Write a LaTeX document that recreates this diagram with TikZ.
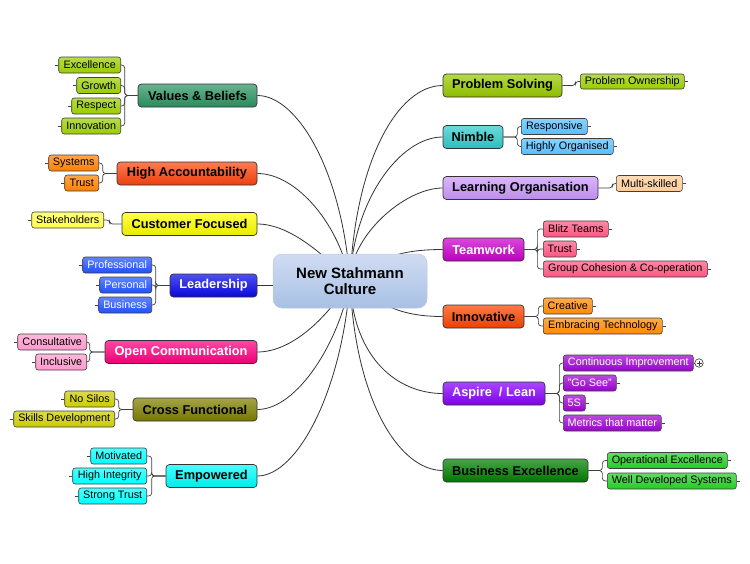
\documentclass[tikz,border=0pt]{standalone}
\usepackage{fontspec}
\setmainfont{Liberation Sans}
\usetikzlibrary{backgrounds}
\definecolor{cVB}{RGB}{46,150,100}
\definecolor{cHA}{RGB}{255,70,15}
\definecolor{cCF}{RGB}{255,255,0}
\definecolor{cLD}{RGB}{10,10,235}
\definecolor{cOC}{RGB}{255,0,128}
\definecolor{cCX}{RGB}{128,128,0}
\definecolor{cEM}{RGB}{0,255,255}
\definecolor{cPS}{RGB}{153,204,0}
\definecolor{cNB}{RGB}{51,204,204}
\definecolor{cLO}{RGB}{204,153,255}
\definecolor{cTW}{RGB}{204,0,204}
\definecolor{cIN}{RGB}{255,69,0}
\definecolor{cAL}{RGB}{136,0,255}
\definecolor{cBE}{RGB}{0,128,0}
\definecolor{sVB}{RGB}{153,204,0}
\definecolor{sHA}{RGB}{255,128,0}
\definecolor{sCF}{RGB}{255,255,70}
\definecolor{sLD}{RGB}{30,80,255}
\definecolor{sOC}{RGB}{255,153,204}
\definecolor{sCX}{RGB}{204,204,0}
\definecolor{sEM}{RGB}{0,255,255}
\definecolor{sPS}{RGB}{153,204,0}
\definecolor{sNB}{RGB}{85,190,255}
\definecolor{sLO}{RGB}{255,204,153}
\definecolor{sTW}{RGB}{255,85,128}
\definecolor{sIN}{RGB}{255,136,0}
\definecolor{sAL}{RGB}{153,0,204}
\definecolor{sBE}{RGB}{34,204,34}
\definecolor{ctrTop}{RGB}{208,220,242}
\definecolor{ctrBot}{RGB}{168,192,228}
\newcommand{\mainfnt}{\bfseries\fontsize{12.8}{15}\selectfont}
\newcommand{\subfnt}{\fontsize{10.8}{12}\selectfont}
\newcommand{\ctrfnt}{\bfseries\fontsize{15}{16}\selectfont}
\tikzset{
  mainnode/.style={draw=black!80, line width=0.7pt, rounded corners=3.5pt, inner sep=0pt,
    minimum height=23pt, font=\mainfnt, top color=#1!72!white, middle color=#1,
    bottom color=#1!92!black, text=black},
  subnode/.style={draw=black!75, line width=0.6pt, rounded corners=2.5pt, inner sep=0pt,
    minimum height=16pt, font=\subfnt, top color=#1!70!white, middle color=#1,
    bottom color=#1, text=black},
  wtext/.style={text=white},
  conn/.style={draw=black!80, line width=0.8pt},
  brk/.style={draw=black!75, line width=0.7pt, rounded corners=3pt},
  stub/.style={draw=black!75, line width=0.7pt},
}
\begin{document}
\begin{tikzpicture}[x=1pt,y=-1pt]
\useasboundingbox (0,0) rectangle (750,563);
% centre
\node[draw=ctrTop!80!gray, line width=0.5pt, rounded corners=9pt, top color=ctrTop, bottom color=ctrBot,
  minimum width=154pt, minimum height=54pt, inner sep=0pt, font=\ctrfnt, align=center] (ctr) at (350,281)
  {New Stahmann\\Culture};
% left main
\node[mainnode=cVB, minimum width=119pt] (vb) at (197.5,95.5) {Values \& Beliefs};
\node[mainnode=cHA, minimum width=140pt] (ha) at (187,173.5) {High Accountability};
\node[mainnode=cCF, minimum width=135pt] (cf) at (189.5,224) {Customer Focused};
\node[mainnode=cLD, minimum width=87pt, wtext] (ld) at (213.5,285.5) {Leadership};
\node[mainnode=cOC, minimum width=152pt, wtext] (oc) at (181,352) {Open Communication};
\node[mainnode=cCX, minimum width=124pt] (cx) at (195,409.5) {Cross Functional};
\node[mainnode=cEM, minimum width=91pt] (em) at (211.5,476) {Empowered};
% right main
\node[mainnode=cPS, minimum width=119pt] (ps) at (502.5,85.5) {Problem Solving};
\node[mainnode=cNB, minimum width=60pt] (nb) at (473,137) {Nimble};
\node[mainnode=cLO, minimum width=155pt] (lo) at (520.5,188) {Learning Organisation};
\node[mainnode=cTW, minimum width=81pt, wtext] (tw) at (483.5,249.5) {Teamwork};
\node[mainnode=cIN, minimum width=81pt] (in) at (483.5,316.5) {Innovative};
\node[mainnode=cAL, minimum width=102pt, wtext] (al) at (494,393.5) {Aspire \ / Lean};
\node[mainnode=cBE, minimum width=145pt] (be) at (515.5,470.5) {Business Excellence};
% left subs
\node[subnode=sVB, minimum width=62pt, anchor=east] (vb1) at (121,65) {Excellence};
\node[subnode=sVB, minimum width=44pt, anchor=east] (vb2) at (121,85.5) {Growth};
\node[subnode=sVB, minimum width=49pt, anchor=east] (vb3) at (121,106) {Respect};
\node[subnode=sVB, minimum width=59pt, anchor=east] (vb4) at (121,126) {Innovation};
\node[subnode=sHA, minimum width=50pt, anchor=east] (ha1) at (99,163) {Systems};
\node[subnode=sHA, minimum width=34pt, anchor=east] (ha2) at (99,183) {Trust};
\node[subnode=sCF, minimum width=72pt, anchor=east] (cf1) at (104,220) {Stakeholders};
\node[subnode=sLD, minimum width=69pt, anchor=east, wtext] (ld1) at (152,265) {Professional};
\node[subnode=sLD, minimum width=52pt, anchor=east, wtext] (ld2) at (152,285) {Personal};
\node[subnode=sLD, minimum width=53pt, anchor=east, wtext] (ld3) at (152,305) {Business};
\node[subnode=sOC, minimum width=69pt, anchor=east] (oc1) at (87,342) {Consultative};
\node[subnode=sOC, minimum width=51pt, anchor=east] (oc2) at (87,362) {Inclusive};
\node[subnode=sCX, minimum width=50pt, anchor=east] (cx1) at (115,399) {No Silos};
\node[subnode=sCX, minimum width=101pt, anchor=east] (cx2) at (115,419) {Skills Development};
\node[subnode=sEM, minimum width=56pt, anchor=east] (em1) at (147,456) {Motivated};
\node[subnode=sEM, minimum width=74pt, anchor=east] (em2) at (147,476) {High Integrity};
\node[subnode=sEM, minimum width=68pt, anchor=east] (em3) at (147,496) {Strong Trust};
% right subs
\node[subnode=sPS, minimum width=104pt, minimum height=15pt, anchor=west] (ps1) at (580,81.5) {Problem Ownership};
\node[subnode=sNB, minimum width=66pt, anchor=west] (nb1) at (521,126.5) {Responsive};
\node[subnode=sNB, minimum width=92pt, anchor=west] (nb2) at (521,146.5) {Highly Organised};
\node[subnode=sLO, minimum width=66pt, anchor=west] (lo1) at (616,183.5) {Multi-skilled};
\node[subnode=sTW, minimum width=65pt, anchor=west] (tw1) at (543,229) {Blitz Teams};
\node[subnode=sTW, minimum width=33pt, anchor=west] (tw2) at (543,249) {Trust};
\node[subnode=sTW, minimum width=164pt, anchor=west] (tw3) at (543,269) {Group Cohesion \& Co-operation};
\node[subnode=sIN, minimum width=49pt, anchor=west] (in1) at (543,306) {Creative};
\node[subnode=sIN, minimum width=119pt, anchor=west] (in2) at (543,326) {Embracing Technology};
\node[subnode=sAL, minimum width=130pt, anchor=west, wtext] (al1) at (563,363) {Continuous Improvement};
\node[subnode=sAL, minimum width=53pt, anchor=west, wtext] (al2) at (563,383) {"Go See"};
\node[subnode=sAL, minimum width=22pt, anchor=west, wtext] (al3) at (563,403) {5S};
\node[subnode=sAL, minimum width=98pt, anchor=west, wtext] (al4) at (563,423) {Metrics that matter};
\node[subnode=sBE, minimum width=120pt, anchor=west] (be1) at (607,460.5) {Operational Excellence};
\node[subnode=sBE, minimum width=129pt, anchor=west] (be2) at (607,481) {Well Developed Systems};
\node[circle, draw=black!80, line width=0.6pt, minimum size=8.5pt, inner sep=0pt, fill=white] (plus) at (699,363) {};
\draw[stub] ([xshift=-2.5pt]plus.center) -- ([xshift=2.5pt]plus.center);
\draw[stub] ([yshift=-2.5pt]plus.center) -- ([yshift=2.5pt]plus.center);
\begin{scope}[on background layer]
\fill[white] (0,0) rectangle (750,563);
% centre connectors
\draw[conn] (vb.east) .. controls +(40,0) and +(-8,-110) .. (ctr.center);
\draw[conn] (ha.east) .. controls +(40,0) and +(-10,-55) .. (ctr.center);
\draw[conn] (cf.east) .. controls +(33,0) and +(-25,-25) .. (ctr.center);
\draw[conn] (ld.east) -- (ld.east -| ctr.west);
\draw[conn] (oc.east) .. controls +(33,0) and +(-25,40) .. (ctr.center);
\draw[conn] (cx.east) .. controls +(40,0) and +(-10,60) .. (ctr.center);
\draw[conn] (em.east) .. controls +(40,0) and +(-8,110) .. (ctr.center);
\draw[conn] (ps.west) .. controls +(-45,0) and +(5,-120) .. (ctr.center);
\draw[conn] (nb.west) .. controls +(-43,0) and +(3,-80) .. (ctr.center);
\draw[conn] (lo.west) .. controls +(-38,0) and +(0,-45) .. (ctr.center);
\draw[conn] (tw.west) .. controls +(-45,0) and +(28,-22) .. (ctr.center);
\draw[conn] (in.west) .. controls +(-45,0) and +(28,22) .. (ctr.center);
\draw[conn] (al.west) .. controls +(-43,0) and +(3,80) .. (ctr.center);
\draw[conn] (be.west) .. controls +(-43,0) and +(5,120) .. (ctr.center);
% brackets left
\foreach \s in {vb1,vb2,vb3,vb4} \draw[brk] (vb.west) -- ++(-13,0) |- (\s.east);
\foreach \s in {ha1,ha2} \draw[brk] (ha.west) -- ++(-14,0) |- (\s.east);
\draw[brk] (cf.west) -- ++(-12,0) |- (cf1.east);
\foreach \s in {ld1,ld2,ld3} \draw[brk] (ld.west) -- ++(-14,0) |- (\s.east);
\foreach \s in {oc1,oc2} \draw[brk] (oc.west) -- ++(-15,0) |- (\s.east);
\foreach \s in {cx1,cx2} \draw[brk] (cx.west) -- ++(-14,0) |- (\s.east);
\foreach \s in {em1,em2,em3} \draw[brk] (em.west) -- ++(-14,0) |- (\s.east);
% brackets right
\draw[brk] (ps.east) -- ++(13,0) |- (ps1.west);
\foreach \s in {nb1,nb2} \draw[brk] (nb.east) -- ++(14,0) |- (\s.west);
\draw[brk] (lo.east) -- ++(14,0) |- (lo1.west);
\foreach \s in {tw1,tw2,tw3} \draw[brk] (tw.east) -- ++(13,0) |- (\s.west);
\foreach \s in {in1,in2} \draw[brk] (in.east) -- ++(14,0) |- (\s.west);
\foreach \s in {al1,al2,al3,al4} \draw[brk] (al.east) -- ++(14,0) |- (\s.west);
\foreach \s in {be1,be2} \draw[brk] (be.east) -- ++(14,0) |- (\s.west);
% stubs
\foreach \s in {vb1,vb2,vb3,vb4,ha1,ha2,cf1,ld1,ld2,ld3,oc1,oc2,cx1,cx2,em1,em2,em3}
  \draw[stub] (\s.west) -- ++(-3,0);
\foreach \s in {ps1,nb1,nb2,lo1,tw1,tw2,tw3,in1,in2,al2,al3,al4,be1,be2}
  \draw[stub] (\s.east) -- ++(3,0);
\draw[stub] (al1.east) -- (plus.west);
\end{scope}
\end{tikzpicture}
\end{document}
